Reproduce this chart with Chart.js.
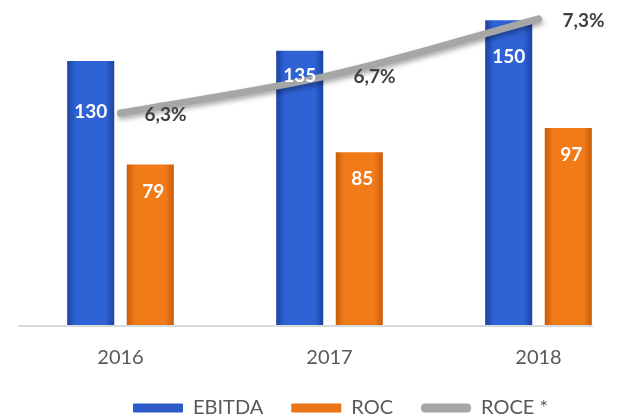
<!DOCTYPE html>
<html>
<head>
<meta charset="utf-8">
<script src="https://cdn.jsdelivr.net/npm/chart.js@4.4.1/dist/chart.umd.min.js"></script>
<style>
  html, body { margin: 0; padding: 0; background: #fff; overflow: hidden; }
  #wrap { width: 662px; height: 418px; }
</style>
</head>
<body>
<div id="wrap"><canvas id="chart"></canvas></div>
<script>
const years = ['2016', '2017', '2018'];
const ebitda = [130, 135, 150];
const roc = [79, 85, 97];
const roce = [6.3, 6.7, 7.3];

// bar shading: [edge, middle]
const shades = [['#1b42a0', '#2f62d4'], ['#c85a0a', '#f27b19']];
const legendFill = ['#2b5bc9', '#ec7415', '#a6a6a6'];

// bars get a horizontal gradient, computed once the bars have their x/width
const barShading = {
    id: 'barShading',
    beforeDatasetsDraw(chart) {
        const ctx = chart.ctx;
        chart.getSortedVisibleDatasetMetas().forEach(meta => {
            if (meta.type !== 'bar') return;
            const [edge, mid] = shades[meta.index];
            meta.data.forEach(bar => {
                const half = bar.width / 2;
                const g = ctx.createLinearGradient(bar.x - half, 0, bar.x + half, 0);
                g.addColorStop(0, edge);
                g.addColorStop(0.18, mid);
                g.addColorStop(0.82, mid);
                g.addColorStop(1, edge);
                bar.options.backgroundColor = g;
            });
        });
    }
};

// baseline only runs to the last bar, like the original
const baseline = {
    id: 'baseline',
    beforeDatasetsDraw(chart) {
        const ctx = chart.ctx;
        const lastBars = chart.getDatasetMeta(1).data;
        const last = lastBars[lastBars.length - 1];
        ctx.save();
        ctx.strokeStyle = '#d9d9d9';
        ctx.lineWidth = 2;
        ctx.beginPath();
        ctx.moveTo(chart.chartArea.left + 2, chart.chartArea.bottom + 1);
        ctx.lineTo(last.x + last.width / 2 + 1, chart.chartArea.bottom + 1);
        ctx.stroke();
        ctx.restore();
    }
};

const lineShadow = {
    id: 'lineShadow',
    beforeDatasetDraw(chart, args) {
        if (args.meta.type !== 'line') return;
        const ctx = chart.ctx;
        ctx.save();
        ctx.shadowColor = 'rgba(0,0,0,0.35)';
        ctx.shadowBlur = 5;
        ctx.shadowOffsetX = 1;
        ctx.shadowOffsetY = 3;
    },
    afterDatasetDraw(chart, args) {
        if (args.meta.type !== 'line') return;
        chart.ctx.restore();
    }
};

// the legend's trailing padding pulls it left; nudge it back to centre
const legendNudge = {
    id: 'legendNudge',
    afterLayout(chart) {
        chart.legend.left += 11;
        chart.legend.right += 11;
    }
};

const valueLabels = {
    id: 'valueLabels',
    afterDatasetsDraw(chart) {
        const ctx = chart.ctx;
        ctx.save();
        ctx.textAlign = 'center';
        ctx.textBaseline = 'middle';
        ctx.font = 'bold 19px Lato';

        const ebitdaDrop = [51, 25, 37];
        ctx.fillStyle = '#ffffff';
        chart.getDatasetMeta(0).data.forEach((bar, i) => {
            ctx.fillText(String(ebitda[i]), bar.x, bar.y + ebitdaDrop[i]);
        });
        chart.getDatasetMeta(1).data.forEach((bar, i) => {
            ctx.fillText(String(roc[i]), bar.x + 3, bar.y + 27);
        });

        ctx.fillStyle = '#404040';
        chart.getDatasetMeta(2).data.forEach((pt, i) => {
            const txt = roce[i].toFixed(1).replace('.', ',') + '%';
            ctx.fillText(txt, pt.x + 45, pt.y + 2);
        });
        ctx.restore();
    }
};

const chart = new Chart(document.getElementById('chart'), {
    data: {
        labels: years,
        datasets: [{
            type: 'bar',
            label: 'EBITDA',
            data: ebitda,
            backgroundColor: () => shades[0][1],
            borderWidth: 0,
            order: 1,
            categoryPercentage: 0.57,
            barPercentage: 0.79
        }, {
            type: 'bar',
            label: 'ROC',
            data: roc,
            backgroundColor: () => shades[1][1],
            borderWidth: 0,
            order: 1,
            categoryPercentage: 0.57,
            barPercentage: 0.79
        }, {
            type: 'line',
            label: 'ROCE *',
            data: roce,
            yAxisID: 'y2',
            borderColor: '#a6a6a6',
            borderWidth: 7,
            borderCapStyle: 'round',
            tension: 0.35,
            pointRadius: 0,
            fill: false,
            order: 0
        }]
    },
    options: {
        responsive: true,
        maintainAspectRatio: false,
        animation: false,
        layout: { padding: { left: 16, right: 19, top: 0, bottom: -10 } },
        scales: {
            x: {
                grid: { display: false },
                border: { display: false },
                ticks: {
                    color: '#595959',
                    font: { family: 'Lato', size: 20 },
                    padding: 13
                },
                afterFit: axis => { axis.height = 45; }
            },
            y: { display: false, min: 0, max: 160 },
            y2: { display: false, position: 'right', min: 4.05, max: 7.5 }
        },
        plugins: {
            tooltip: { enabled: false },
            legend: {
                position: 'bottom',
                labels: {
                    boxWidth: 50,
                    boxHeight: 9,
                    padding: 28,
                    useBorderRadius: true,
                    borderRadius: 2,
                    color: '#595959',
                    font: { family: 'Lato', size: 20 },
                    generateLabels: c => c.data.datasets.map((ds, i) => ({
                        text: ds.label,
                        fillStyle: legendFill[i],
                        strokeStyle: legendFill[i],
                        lineWidth: 0,
                        borderRadius: i === 2 ? 4 : 1,
                        fontColor: '#595959',
                        datasetIndex: i,
                        hidden: false
                    }))
                }
            }
        }
    },
    plugins: [barShading, baseline, lineShadow, legendNudge, valueLabels]
});
</script>
</body>
</html>
